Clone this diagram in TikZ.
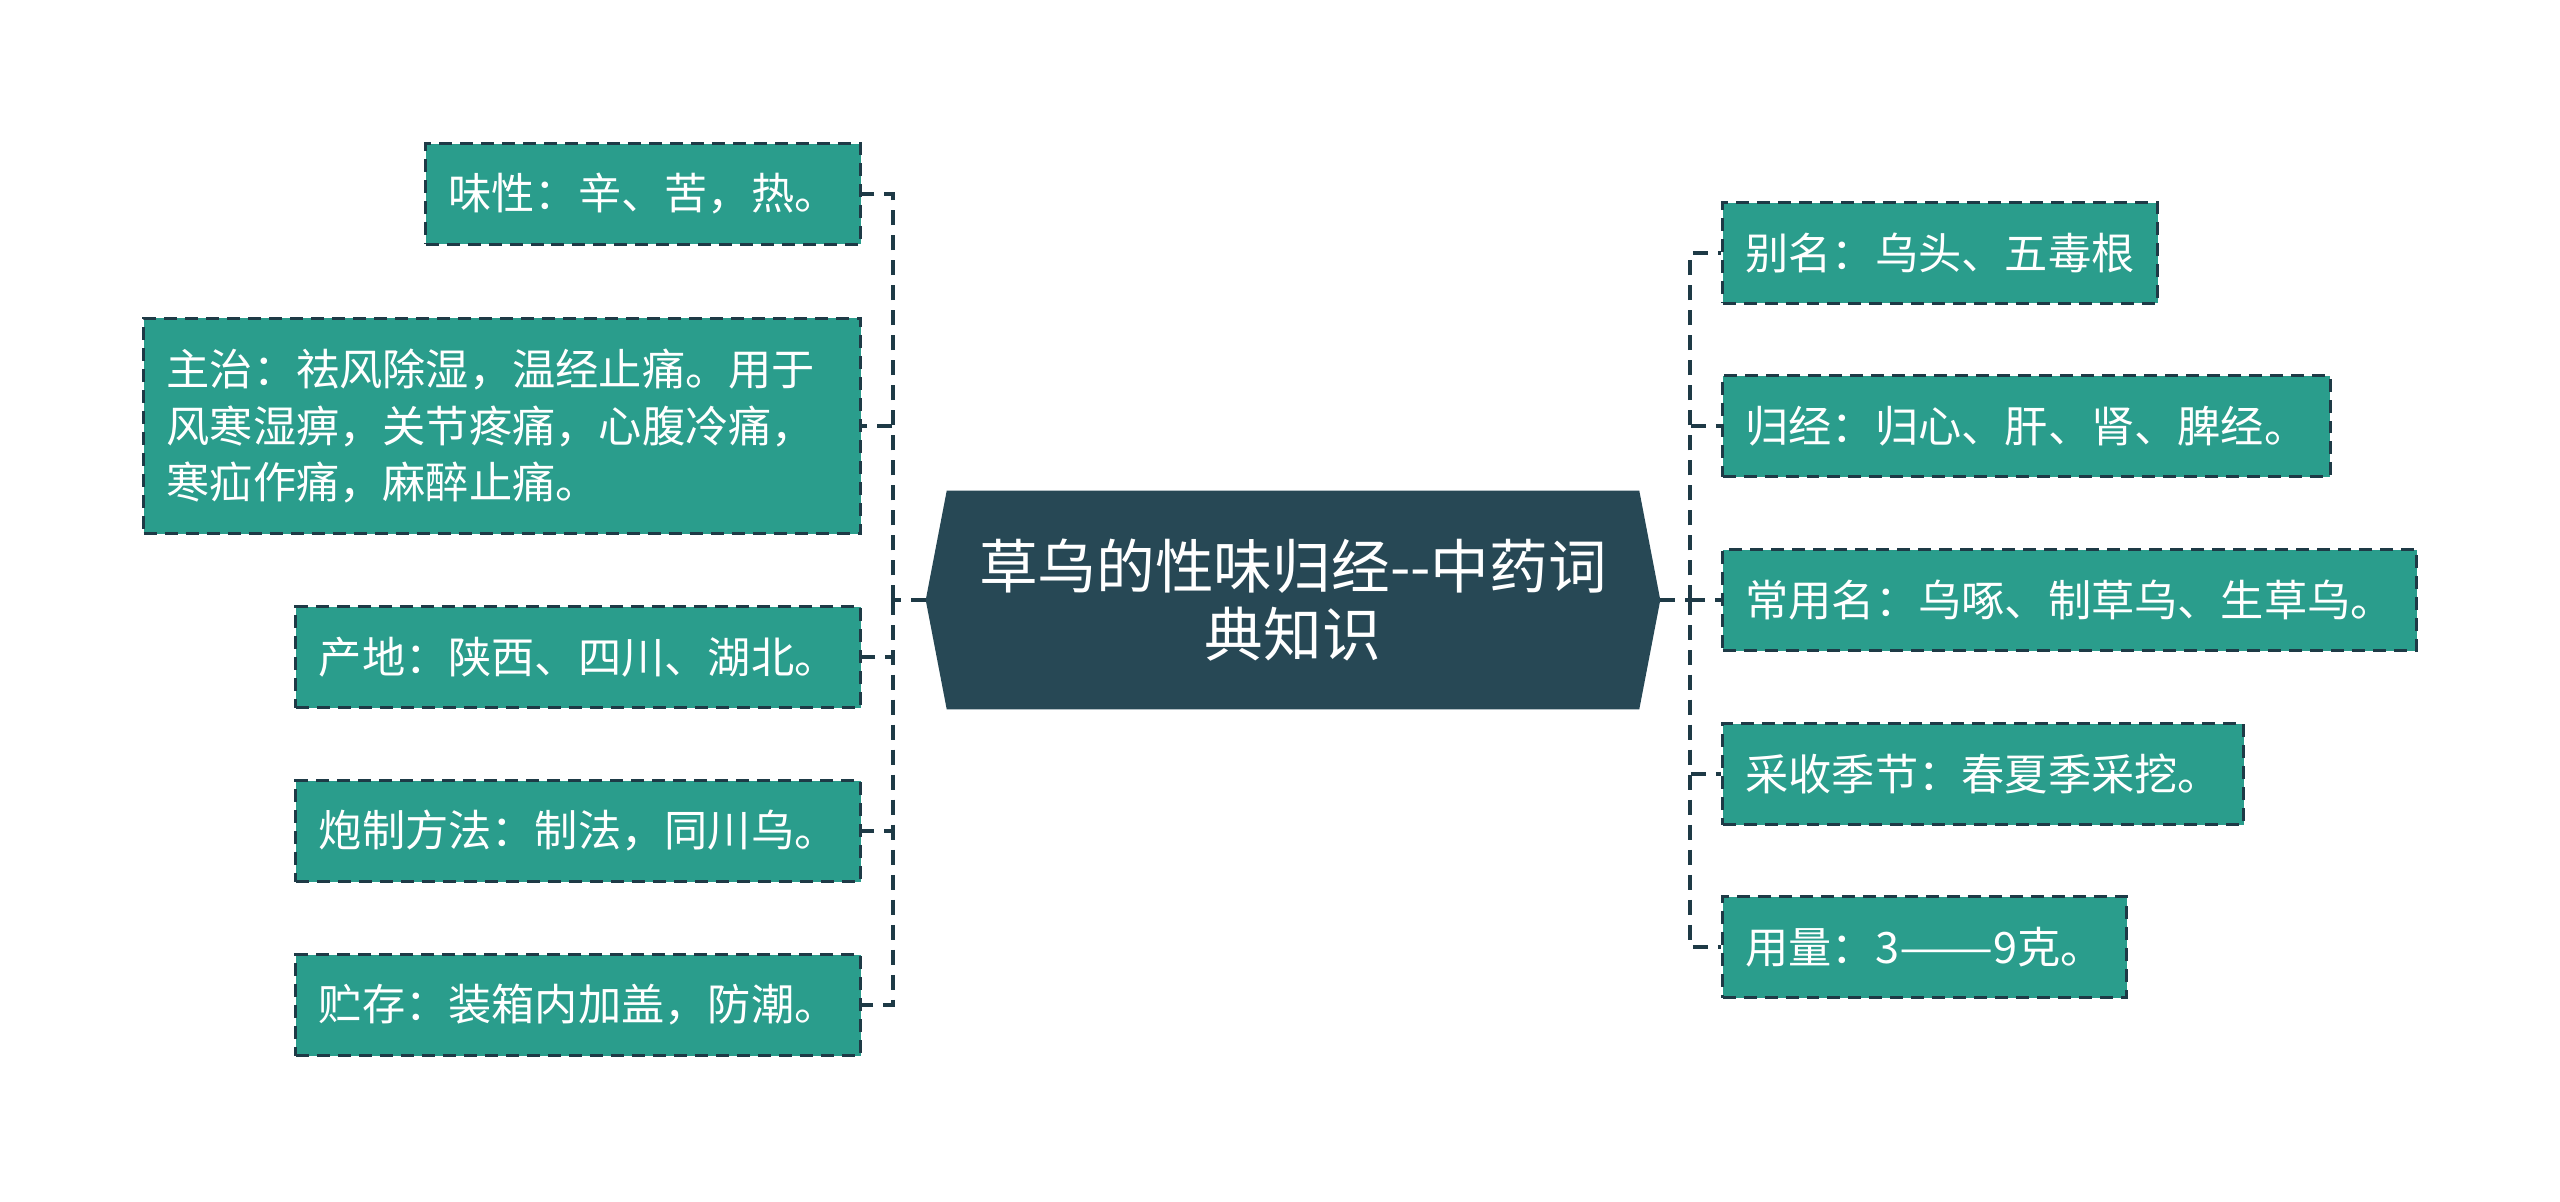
\documentclass[tikz,border=0pt]{standalone}
\usepackage{fontspec}
\setmainfont{Noto Sans CJK SC}
\usetikzlibrary{backgrounds}
\definecolor{hubcol}{RGB}{39,72,85}
\definecolor{leafcol}{RGB}{42,157,140}
\definecolor{linecol}{RGB}{30,58,70}

\tikzset{
  leaf/.style={fill=leafcol, draw=linecol, line width=0.06cm,
    dash pattern=on 0.26cm off 0.16cm, text=white, font=\fontsize{24.6}{32.3}\selectfont,
    inner xsep=0.46cm, inner ysep=0pt, minimum height=2.02cm, align=left},
  link/.style={draw=linecol, line width=0.065cm, dash pattern=on 0.3cm off 0.2cm},
}

\begin{document}
\begin{tikzpicture}[x=0.02cm, y=-0.02cm]
  \useasboundingbox (0,0) rectangle (2560,1201);

  \node[text=white, font=\fontsize{33.4}{39}\selectfont, align=center,
        minimum width=14.68cm, minimum height=4.36cm, inner sep=0pt] (hub) at (1293,600)
        {草乌的性味归经-{}-中药词\\典知识};
  \begin{scope}[on background layer]
    \fill[white] (0,0) rectangle (2560,1201);
    \fill[hubcol] (hub.west) -- ([xshift=0.42cm]hub.north west) -- ([xshift=-0.42cm]hub.north east)
      -- (hub.east) -- ([xshift=-0.42cm]hub.south east) -- ([xshift=0.42cm]hub.south west) -- cycle;
  \end{scope}

  % left side
  \node[leaf, anchor=east] (wei)  at (862,194)  {味性：辛、苦，热。};
  \node[leaf, anchor=east, minimum height=4.32cm, text width=13.42cm] (zhu) at (862,426)
        {主治：祛风除湿，温经止痛。用于\\风寒湿痹，关节疼痛，心腹冷痛，\\寒疝作痛，麻醉止痛。};
  \node[leaf, anchor=east] (chan) at (862,657)  {产地：陕西、四川、湖北。};
  \node[leaf, anchor=east] (pao)  at (862,831)  {炮制方法：制法，同川乌。};
  \node[leaf, anchor=east] (zhi)  at (862,1005) {贮存：装箱内加盖，防潮。};

  % right side
  \node[leaf, anchor=west] (bie)  at (1721,253) {别名：乌头、五毒根};
  \node[leaf, anchor=west] (gui)  at (1721,426) {归经：归心、肝、肾、脾经。};
  \node[leaf, anchor=west] (chang) at (1721,600) {常用名：乌啄、制草乌、生草乌。};
  \node[leaf, anchor=west] (cai)  at (1721,774) {采收季节：春夏季采挖。};
  \node[leaf, anchor=west] (yong) at (1721,947) {用量：3\scalebox{1.3}[1]{——}9克。};

  \coordinate (lj) at (893,600);
  \coordinate (rj) at (1690,600);
  \draw[link] (hub.west) -- (lj);
  \draw[link] (hub.east) -- (rj);
  \foreach \n in {wei,zhu,chan,pao,zhi}
    \draw[link] (lj) |- (\n.east);
  \foreach \n in {bie,gui,chang,cai,yong}
    \draw[link] (rj) |- (\n.west);
\end{tikzpicture}
\end{document}
